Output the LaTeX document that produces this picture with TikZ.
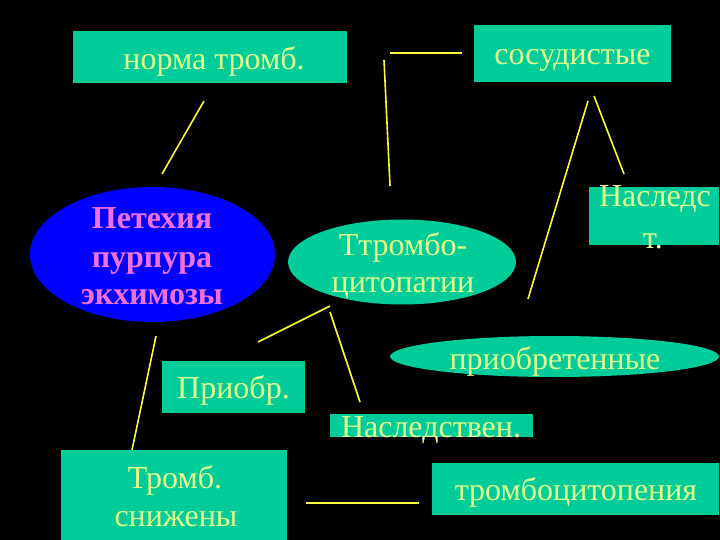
\documentclass[tikz,border=0pt]{standalone}
\usepackage{fontspec}
\setmainfont{Liberation Serif}
\usetikzlibrary{shapes.geometric}
\definecolor{tealfill}{HTML}{00CC99}
\definecolor{txtcol}{HTML}{E0FF8C}
\definecolor{pinktxt}{HTML}{F070DC}
\definecolor{bluefill}{HTML}{0000FF}
\definecolor{lineyel}{HTML}{FAFA3C}
\begin{document}
\begin{tikzpicture}[x=1pt,y=-1pt,
  box/.style={rectangle,fill=tealfill,draw=none,inner sep=0pt},
  oval/.style={ellipse,fill=tealfill,draw=none,inner sep=0pt},
  lbl/.style={anchor=base,inner sep=0pt,text=txtcol,font=\fontsize{32}{40}\selectfont},
  boldlbl/.style={anchor=base,inner sep=0pt,text=pinktxt,font=\fontsize{32}{40}\selectfont\bfseries},
  conn/.style={draw=lineyel,line width=1.6pt}]
\fill[black] (0,0) rectangle (720,540);
\useasboundingbox (0,0) rectangle (720,540);

% shapes
\node[box,minimum width=274,minimum height=52] (norma) at (210,57) {};
\node[box,minimum width=197,minimum height=57] (sosud) at (572.5,53.5) {};
\node[box,minimum width=130,minimum height=58] (nasl) at (654,216) {};
\node[box,minimum width=143,minimum height=52] (priobr) at (233.5,387) {};
\node[box,minimum width=203,minimum height=23] (nasledstv) at (431.5,425.5) {};
\node[box,minimum width=226,minimum height=90] (trombsn) at (174,495) {};
\node[box,minimum width=287,minimum height=52] (trombcyt) at (575.5,489) {};
\node[ellipse,fill=bluefill,draw=none,inner sep=0pt,minimum width=245,minimum height=135] (pet) at (152.5,254.5) {};
\node[oval,minimum width=228,minimum height=85] (trpat) at (402,262) {};
\node[oval,minimum width=329,minimum height=41] (priobret) at (554.5,356.5) {};

% texts
\node[lbl] (t1) at (214,70) {норма тромб.};
\node[lbl] (t2) at (572.5,65) {сосудистые};
\node[lbl] (t3a) at (655,207) {Наследс};
\node[lbl] (t3b) at (653,248) {т.};
\node[boldlbl] (t4a) at (152,229) {Петехия};
\node[boldlbl] (t4b) at (152,267) {пурпура};
\node[boldlbl] (t4c) at (152,304) {экхимозы};
\node[lbl] (t5a) at (403,255) {Ттромбо-};
\node[lbl] (t5b) at (403,292) {цитопатии};
\node[lbl] (t6) at (555,369) {приобретенные};
\node[lbl] (t7) at (233.5,398) {Приобр.};
\node[lbl] (t8) at (431,437) {Наследствен.};
\node[lbl] (t9a) at (175,488) {Тромб.};
\node[lbl] (t9b) at (176,526) {снижены};
\node[lbl] (t10) at (576,500) {тромбоцитопения};

% connector end points
\coordinate (a1) at (204,101); \coordinate (a2) at (162,174);
\coordinate (b1) at (390,53);  \coordinate (b2) at (462,53);
\coordinate (c1) at (384,60);  \coordinate (c2) at (390,186);
\coordinate (d1) at (588,101); \coordinate (d2) at (528,299);
\coordinate (e1) at (594,96);  \coordinate (e2) at (624,174);
\coordinate (f1) at (330,306); \coordinate (f2) at (258,342);
\coordinate (g1) at (330,312); \coordinate (g2) at (360,402);
\coordinate (h1) at (156,336); \coordinate (h2) at (132,450);
\coordinate (k1) at (306,503); \coordinate (k2) at (419,503);

\draw[conn] (a1) -- (a2);
\draw[conn] (b1) -- (b2);
\draw[conn] (c1) -- (c2);
\draw[conn] (d1) -- (d2);
\draw[conn] (e1) -- (e2);
\draw[conn] (f1) -- (f2);
\draw[conn] (g1) -- (g2);
\draw[conn] (h1) -- (h2);
\draw[conn] (k1) -- (k2);
\end{tikzpicture}
\end{document}
